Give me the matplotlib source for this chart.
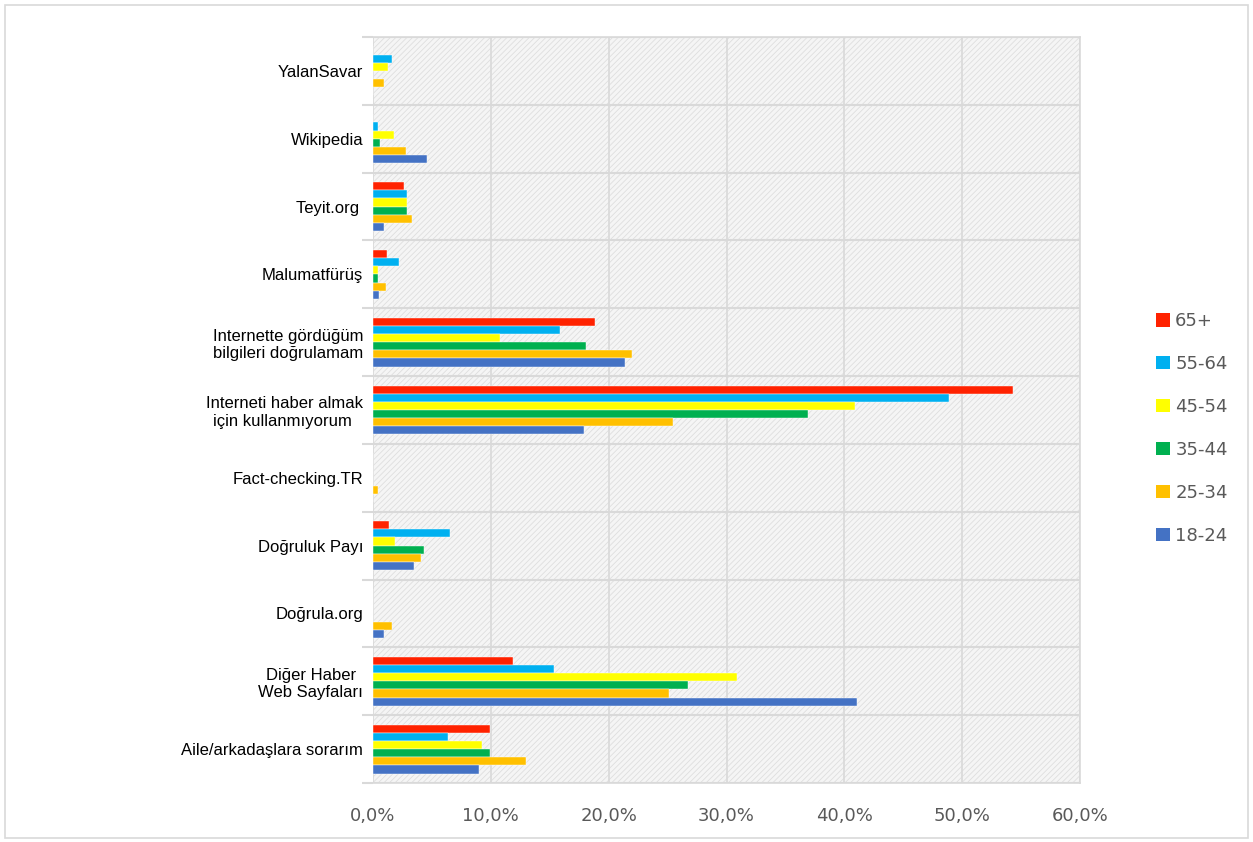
import matplotlib
matplotlib.use("Agg")
import matplotlib.pyplot as plt
import numpy as np
from matplotlib.patches import Rectangle, Patch

# categories top to bottom, values in %
categories = ["YalanSavar", "Wikipedia", "Teyit.org ", "Malumatfürüş",
              "Internette gördüğüm\nbilgileri doğrulamam",
              "Interneti haber almak\niçin kullanmıyorum ",
              "Fact-checking.TR", "Doğruluk Payı", "Doğrula.org",
              "Diğer Haber\nWeb Sayfaları", "Aile/arkadaşlara sorarım"]
age_groups = ["65+", "55-64", "45-54", "35-44", "25-34", "18-24"]
colors = ["#FF2200", "#00B0F0", "#FFFF00", "#00B050", "#FFC000", "#4472C4"]

v65 = [0.0, 0.0, 2.6, 1.2, 18.8, 54.3, 0.0, 1.4, 0.0, 11.9, 9.95]
v55 = [1.6, 0.45, 2.9, 2.2, 15.9, 48.9, 0.0, 6.5, 0.0, 15.4, 6.4]
v45 = [1.25, 1.8, 2.9, 0.45, 10.8, 40.9, 0.0, 1.9, 0.0, 30.9, 9.25]
v35 = [0.0, 0.6, 2.9, 0.45, 18.1, 36.9, 0.0, 4.35, 0.0, 26.7, 9.95]
v25 = [0.9, 2.8, 3.3, 1.1, 22.0, 25.5, 0.45, 4.05, 1.6, 25.1, 13.0]
v18 = [0.0, 4.6, 0.96, 0.55, 21.4, 17.9, 0.0, 3.5, 0.96, 41.1, 9.0]
series = [v65, v55, v45, v35, v25, v18]

fig = plt.figure(figsize=(12.53, 8.42), dpi=100)
fig.patches.append(Rectangle((0.004, 0.005), 0.992, 0.989, transform=fig.transFigure,
                             fill=False, edgecolor="#d9d9d9", linewidth=1.2))
ax = fig.add_axes([373 / 1253, 1 - 783 / 842, (1080 - 373) / 1253, (783 - 37) / 842])

# hatched background
plt.rcParams['hatch.color'] = "#dedede"
plt.rcParams['hatch.linewidth'] = 0.6
ax.set_facecolor("#f5f5f5")
ax.add_patch(Rectangle((0, 0), 1, 1, transform=ax.transAxes, facecolor="#f5f5f5",
                       edgecolor="#dedede", hatch="//////", linewidth=0, zorder=0))

n = len(categories)
y = np.arange(n)
h = 0.12
for j, (vals, col, lab) in enumerate(zip(series, colors, age_groups)):
    ax.barh(y + (j - 2.5) * h, vals, height=h, color=col, edgecolor="white",
            linewidth=0.3, label=lab, zorder=3)

ax.set_ylim(n - 0.5, -0.5)
ax.set_xlim(0, 60)
ax.set_xticks(np.arange(0, 61, 10))
ax.set_xticklabels([f"{t:.1f}%".replace(".", ",") for t in np.arange(0, 61, 10)],
                   fontsize=13, color="#595959", family="DejaVu Sans")
ax.set_yticks(y)
ax.set_yticklabels(categories, fontsize=12, family="Liberation Sans",
                   multialignment="center")
ax.set_yticks(np.arange(-0.5, n, 1), minor=True)
ax.tick_params(axis="y", which="major", length=0, pad=7)
ax.tick_params(axis="y", which="minor", length=8, color="#d9d9d9", width=1.5)
ax.tick_params(axis="x", length=0, pad=17)
ax.grid(axis="y", which="minor", color="#d9d9d9", linewidth=1.5, zorder=1)
ax.grid(axis="x", which="major", color="#d9d9d9", linewidth=1.2, zorder=1)
for s in ["top", "bottom", "left", "right"]:
    ax.spines[s].set_color("#d9d9d9")
    ax.spines[s].set_linewidth(1.2)
ax.spines["left"].set_visible(False)
ax.set_axisbelow(True)

handles = [Patch(facecolor=c, edgecolor="none") for c in colors]
fig.legend(handles, age_groups, loc="upper left",
           bbox_to_anchor=(1140 / 1253, 1 - 296 / 842), frameon=False,
           labelcolor="#595959", handlelength=0.75, handleheight=0.75,
           handletextpad=0.3, labelspacing=1.38, prop={"family": "DejaVu Sans", "size": 13})

fig.savefig("out.png", dpi=100)
